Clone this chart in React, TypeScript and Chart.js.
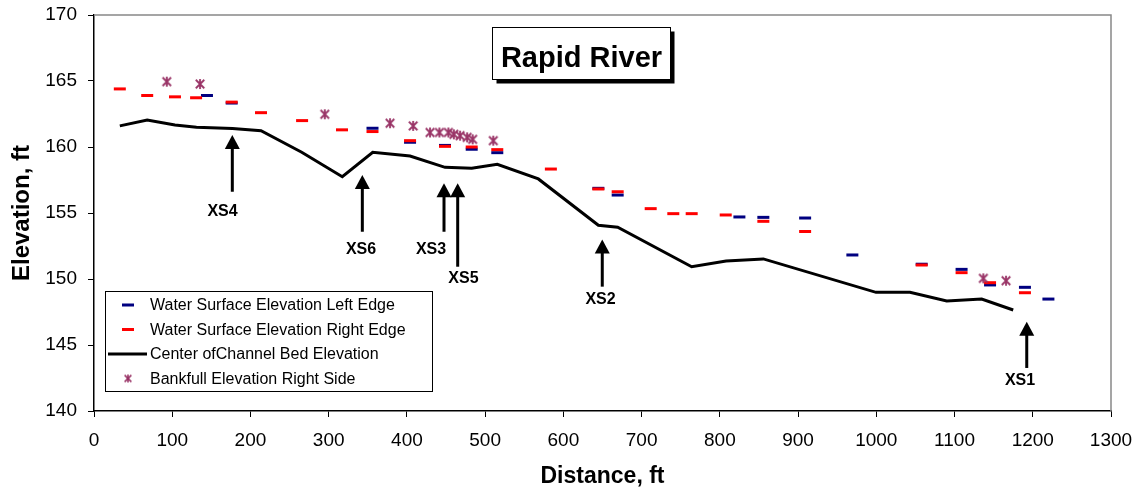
import { useEffect, useRef } from "react";
import { Chart, registerables } from "chart.js";
Chart.register(...registerables);

const FONT = "'Liberation Sans', Arial, Helvetica, sans-serif";

// Distance (ft) / elevation (ft) readings
const leftEdgeX = [144.4, 176, 356, 404, 448.7, 482.8, 515.5, 644.7, 669.4, 825, 855.6, 909, 969.4, 1058, 1109, 1145.4, 1190, 1220];
const leftEdgeY = [163.9, 163.33, 161.42, 160.36, 160.12, 159.83, 159.57, 156.87, 156.36, 154.7, 154.67, 154.62, 151.82, 151.12, 150.73, 149.55, 149.37, 148.48];

const rightEdgeX = [33, 68, 103.5, 130.5, 176, 213.5, 266, 317, 356, 404, 448.7, 482.8, 515.5, 584, 644.7, 669.4, 711.6, 740.5, 764, 807.5, 855.6, 909, 1058, 1109, 1145.4, 1190];
const rightEdgeY = [164.4, 163.9, 163.8, 163.73, 163.4, 162.6, 162.0, 161.3, 161.17, 160.48, 160.05, 160.0, 159.8, 158.33, 156.82, 156.61, 155.33, 154.95, 154.95, 154.85, 154.37, 153.6, 151.06, 150.48, 149.72, 148.96];

const bedX = [33, 68, 103.5, 131, 177, 213.5, 265.5, 317.4, 356.3, 404, 448.7, 482.8, 515.5, 568, 644.7, 669.4, 764, 808, 855.6, 999.6, 1043, 1090, 1134.7, 1175];
const bedY = [161.6, 162.05, 161.67, 161.5, 161.4, 161.24, 159.6, 157.75, 159.6, 159.32, 158.46, 158.39, 158.69, 157.58, 154.07, 153.92, 150.93, 151.36, 151.52, 148.99, 148.99, 148.33, 148.48, 147.65];

const bankX = [93, 135.5, 295, 378.4, 408, 429.5, 441.5, 453, 460, 468, 477, 484, 510.4, 1136.8, 1165.8];
const bankY = [164.95, 164.77, 162.48, 161.8, 161.6, 161.1, 161.1, 161.1, 160.96, 160.86, 160.73, 160.58, 160.48, 150.05, 149.87];

const seriesNames = [
  "Water Surface Elevation Left Edge",
  "Water Surface Elevation Right Edge",
  "Center ofChannel Bed Elevation",
  "Bankfull Elevation Right Side",
];

// Cross-section callouts (distance ft, arrow tip elev, arrow tail elev, label distance, label elev)
const xsLabels = ["XS4", "XS6", "XS3", "XS5", "XS2", "XS1"];
const xsArrowX = [176.8, 343, 447.4, 464.9, 649.7, 1192.3];
const xsTipY = [160.91, 157.88, 157.25, 157.25, 153.0, 146.77];
const xsTailY = [156.61, 153.58, 153.58, 150.93, 149.42, 143.26];
const xsLabelX = [164.3, 341.3, 430.8, 472.3, 647.5, 1183.7];
const xsLabelY = [155.1, 152.2, 152.2, 150.05, 148.41, 142.27];

const chartTitle = "Rapid River";
const xTitle = "Distance, ft";
const yTitle = "Elevation, ft";

const pts = (xs: number[], ys: number[]) => xs.map((x, i) => ({ x, y: ys[i] }));

function makeStar(size: number, color: string, lw: number) {
  const c = document.createElement("canvas");
  c.width = size;
  c.height = size;
  const g = c.getContext("2d")!;
  g.strokeStyle = color;
  g.lineWidth = lw;
  g.lineCap = "butt";
  const m = size / 2;
  const r = size / 2 - 1;
  g.beginPath();
  g.moveTo(m, m - r);
  g.lineTo(m, m + r);
  g.moveTo(m - r * 0.85, m - r * 0.85);
  g.lineTo(m + r * 0.85, m + r * 0.85);
  g.moveTo(m + r * 0.85, m - r * 0.85);
  g.lineTo(m - r * 0.85, m + r * 0.85);
  g.stroke();
  return c;
}

const noPad = (s: any) => {
  s.paddingTop = 0;
  s.paddingBottom = 0;
  s.paddingLeft = 0;
  s.paddingRight = 0;
};

export default function App() {
  const ref = useRef<HTMLCanvasElement>(null);
  useEffect(() => {
    const NAVY = "#000080";
    const RED = "#FF0000";
    const PLUM = "#993366";
    const star = makeStar(12, PLUM, 1.8);
    const legendStar = makeStar(10, PLUM, 1.5);

    const extras = {
      id: "extras",
      afterDraw(chart: any) {
        const ctx = chart.ctx as CanvasRenderingContext2D;
        const { left, right, top, bottom } = chart.chartArea;
        const xs = chart.scales.x;
        const ys = chart.scales.y;
        ctx.save();
        // top & right frame
        ctx.strokeStyle = "#888888";
        ctx.lineWidth = 1.5;
        ctx.beginPath();
        ctx.moveTo(left, top);
        ctx.lineTo(right, top);
        ctx.lineTo(right, bottom);
        ctx.stroke();

        // callout arrows
        ctx.fillStyle = "#000";
        ctx.strokeStyle = "#000";
        for (let i = 0; i < xsLabels.length; i++) {
          const px = xs.getPixelForValue(xsArrowX[i]);
          const tip = ys.getPixelForValue(xsTipY[i]);
          const tail = ys.getPixelForValue(xsTailY[i]);
          ctx.lineWidth = 3;
          ctx.beginPath();
          ctx.moveTo(px, tail);
          ctx.lineTo(px, tip + 10);
          ctx.stroke();
          ctx.beginPath();
          ctx.moveTo(px, tip);
          ctx.lineTo(px - 7.5, tip + 14);
          ctx.lineTo(px + 7.5, tip + 14);
          ctx.closePath();
          ctx.fill();
          ctx.font = `bold 16px ${FONT}`;
          ctx.textAlign = "center";
          ctx.textBaseline = "middle";
          ctx.fillText(xsLabels[i], xs.getPixelForValue(xsLabelX[i]), ys.getPixelForValue(xsLabelY[i]));
        }

        // title box with shadow
        const bx = 492.5, by = 27.5, bw = 178, bh = 52;
        ctx.fillStyle = "#000";
        ctx.fillRect(bx + 4, by + 4, bw, bh);
        ctx.fillStyle = "#fff";
        ctx.fillRect(bx, by, bw, bh);
        ctx.lineWidth = 1;
        ctx.strokeStyle = "#000";
        ctx.strokeRect(bx, by, bw, bh);
        ctx.fillStyle = "#000";
        ctx.font = `bold 29px ${FONT}`;
        ctx.textAlign = "center";
        ctx.textBaseline = "alphabetic";
        ctx.fillText(chartTitle, bx + bw / 2, 66.5);

        // legend
        const lx = 105.5, ly = 291.5, lw = 327, lh = 100;
        ctx.fillStyle = "#fff";
        ctx.fillRect(lx, ly, lw, lh);
        ctx.strokeStyle = "#000";
        ctx.lineWidth = 1;
        ctx.strokeRect(lx, ly, lw, lh);
        const rows = [305, 329.5, 354, 378.5];
        ctx.font = `16px ${FONT}`;
        ctx.textAlign = "left";
        ctx.textBaseline = "middle";
        for (let i = 0; i < 4; i++) {
          const ry = rows[i];
          if (i < 2) {
            ctx.strokeStyle = i === 0 ? NAVY : RED;
            ctx.lineWidth = 3;
            ctx.beginPath();
            ctx.moveTo(122, ry);
            ctx.lineTo(134, ry);
            ctx.stroke();
          } else if (i === 2) {
            ctx.strokeStyle = "#000";
            ctx.lineWidth = 3;
            ctx.beginPath();
            ctx.moveTo(108, ry);
            ctx.lineTo(147, ry);
            ctx.stroke();
          } else {
            ctx.drawImage(legendStar, 128 - 5, ry - 5);
          }
          ctx.fillStyle = "#000";
          ctx.fillText(seriesNames[i], 150, ry + 1);
        }
        ctx.restore();
      },
    };

    const chart = new Chart(ref.current!, {
      type: "scatter",
      data: {
        datasets: [
          {
            label: seriesNames[0],
            data: pts(leftEdgeX, leftEdgeY),
            pointStyle: "line",
            pointRadius: 6,
            pointBorderWidth: 3,
            borderColor: NAVY,
            backgroundColor: NAVY,
            order: 4,
          },
          {
            label: seriesNames[1],
            data: pts(rightEdgeX, rightEdgeY),
            pointStyle: "line",
            pointRadius: 6,
            pointBorderWidth: 3,
            borderColor: RED,
            backgroundColor: RED,
            order: 3,
          },
          {
            label: seriesNames[2],
            data: pts(bedX, bedY),
            showLine: true,
            pointRadius: 0,
            borderColor: "#000",
            backgroundColor: "#000",
            borderWidth: 3,
            order: 2,
          },
          {
            label: seriesNames[3],
            data: pts(bankX, bankY),
            pointStyle: star as any,
            pointRadius: 6,
            borderColor: PLUM,
            backgroundColor: PLUM,
            order: 1,
          },
        ],
      },
      options: {
        responsive: false,
        animation: false,
        events: [],
        layout: { padding: { top: 15, right: 28, left: 0, bottom: 0 } },
        plugins: { legend: { display: false }, tooltip: { enabled: false }, title: { display: false } },
        scales: {
          x: {
            type: "linear",
            min: 0,
            max: 1300,
            afterFit: (s: any) => { s.height = 81; noPad(s); },
            ticks: { stepSize: 100, color: "#000", font: { family: FONT, size: 19 }, padding: 12, maxRotation: 0, callback: (v: any) => String(v) },
            grid: { display: true, drawOnChartArea: false, drawTicks: true, tickLength: 6, color: "#000", lineWidth: 1 },
            border: { display: true, color: "#000", width: 1.5 },
            title: { display: true, text: xTitle, color: "#000", font: { family: FONT, size: 23, weight: "bold" }, padding: { top: 0, bottom: 2 } },
          },
          y: {
            type: "linear",
            min: 140,
            max: 170,
            afterFit: (s: any) => { s.width = 94; noPad(s); },
            ticks: { stepSize: 5, color: "#000", font: { family: FONT, size: 19 }, padding: 11, callback: (v: any) => String(v) },
            grid: { display: true, drawOnChartArea: false, drawTicks: true, tickLength: 6, color: "#000", lineWidth: 1 },
            border: { display: true, color: "#000", width: 1.5 },
            title: { display: true, text: yTitle, color: "#000", font: { family: FONT, size: 24, weight: "bold" }, padding: { top: 8, bottom: 0 } },
          },
        },
      },
      plugins: [extras],
    } as any);
    return () => chart.destroy();
  }, []);
  return (
    <div style={{ position: "absolute", left: 0, top: 0, width: 1139, height: 492, background: "#fff" }}>
      <canvas ref={ref} width={1139} height={492} style={{ display: "block" }} />
    </div>
  );
}
